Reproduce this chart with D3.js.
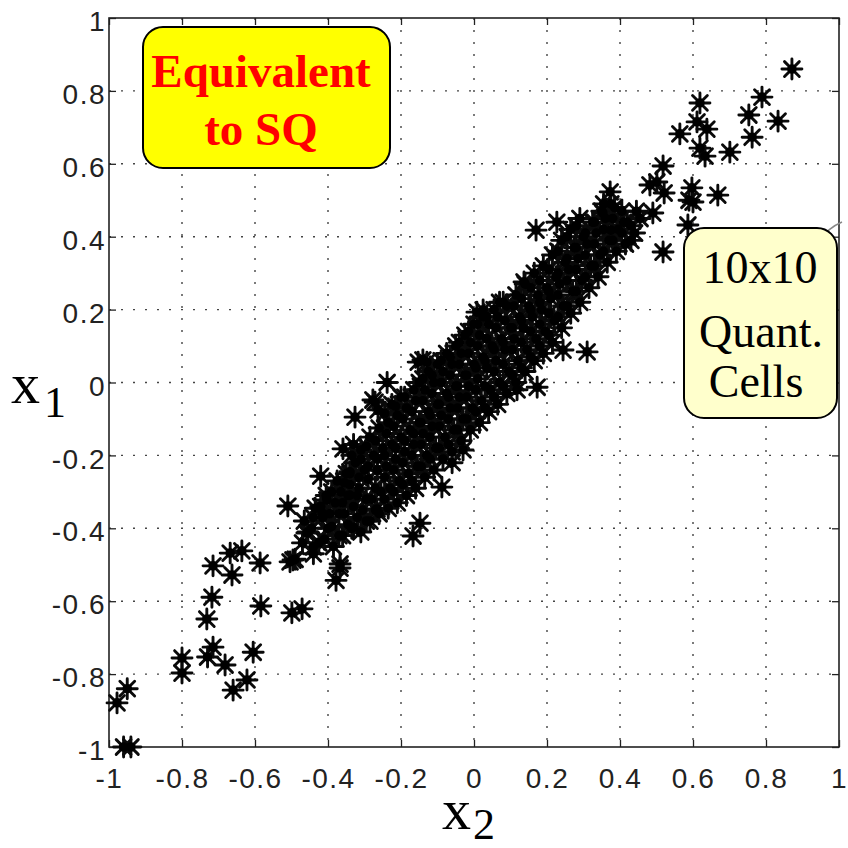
<!DOCTYPE html>
<html>
<head>
<meta charset="utf-8">
<script src="https://cdn.jsdelivr.net/npm/d3@7"></script>
<style>
  body { margin: 0; background: #fff; }
  svg { display: block; }
</style>
</head>
<body>
<div id="chart"></div>
<script>
const WIDTH = 848;
const HEIGHT = 848;
// plot frame: x 109..839, y 18..747
const MARGIN = { top: 18, right: 9, bottom: 101, left: 109 };

const TICKS = [-1, -0.8, -0.6, -0.4, -0.2, 0, 0.2, 0.4, 0.6, 0.8, 1];
const TICK_LABELS = ['-1', '-0.8', '-0.6', '-0.4', '-0.2', '0', '0.2', '0.4', '0.6', '0.8', '1'];

// [x2, x1] pairs
const LOW_TAIL = [
  [-0.96, -1.0], [-0.94, -1.0], [-0.978, -0.879], [-0.95, -0.84],
  [-0.80, -0.756], [-0.80, -0.797], [-0.715, -0.726], [-0.73, -0.753], [-0.682, -0.775],
  [-0.66, -0.844], [-0.622, -0.816], [-0.605, -0.74],
  [-0.732, -0.649], [-0.718, -0.589], [-0.715, -0.503], [-0.668, -0.468], [-0.636, -0.462],
  [-0.663, -0.528], [-0.586, -0.495], [-0.584, -0.613],
  [-0.499, -0.632], [-0.471, -0.621], [-0.504, -0.492], [-0.49, -0.485],
  [-0.378, -0.543], [-0.367, -0.498], [-0.367, -0.509]
];

const EDGE_POINTS = [
  [-0.51, -0.339], [-0.42, -0.257], [-0.359, -0.182], [-0.167, -0.421], [-0.148, -0.386],
  [-0.33, -0.397], [-0.266, -0.347], [-0.326, -0.095], [-0.271, -0.054], [-0.238, 0.0],
  [-0.263, -0.075], [-0.153, 0.056], [-0.14, 0.062], [-0.277, -0.048],
  [-0.44, -0.451], [-0.458, -0.413], [-0.496, -0.487], [-0.403, -0.322], [-0.414, -0.369],
  [-0.416, -0.358], [-0.34, -0.245], [-0.34, -0.309],
  [-0.088, -0.287], [-0.06, -0.22], [-0.03, -0.185], [-0.129, 0.056],
  [0.173, -0.013], [0.31, 0.084], [0.137, 0.276], [0.17, 0.418], [0.227, 0.44], [0.008, 0.193],
  [0.025, 0.199], [0.118, -0.02], [0.244, 0.089]
];

const CORE = [
  [-0.47, -0.44], [-0.465, -0.38],
  [-0.44, -0.47], [-0.445, -0.40], [-0.435, -0.345],
  [-0.41, -0.43], [-0.415, -0.37], [-0.405, -0.31],
  [-0.385, -0.45], [-0.39, -0.395], [-0.38, -0.33], [-0.375, -0.27],
  [-0.36, -0.42], [-0.355, -0.36], [-0.365, -0.30], [-0.35, -0.25],
  [-0.335, -0.40], [-0.33, -0.34], [-0.34, -0.28], [-0.325, -0.22], [-0.33, -0.17],
  [-0.31, -0.41], [-0.305, -0.35], [-0.315, -0.29], [-0.30, -0.24], [-0.31, -0.185],
  [-0.285, -0.38], [-0.28, -0.32], [-0.29, -0.265], [-0.275, -0.20], [-0.285, -0.15],
  [-0.26, -0.36], [-0.255, -0.30], [-0.265, -0.24], [-0.25, -0.18], [-0.26, -0.125],
  [-0.235, -0.345], [-0.23, -0.29], [-0.24, -0.23], [-0.225, -0.17], [-0.235, -0.11], [-0.225, -0.06],
  [-0.21, -0.33], [-0.205, -0.27], [-0.215, -0.21], [-0.20, -0.15], [-0.21, -0.09], [-0.20, -0.04],
  [-0.185, -0.31], [-0.18, -0.25], [-0.19, -0.19], [-0.175, -0.13], [-0.185, -0.07],
  [-0.16, -0.29], [-0.155, -0.23], [-0.165, -0.17], [-0.15, -0.11], [-0.16, -0.05], [-0.15, 0.00],
  [-0.135, -0.26], [-0.13, -0.20], [-0.14, -0.14], [-0.125, -0.08], [-0.135, -0.02], [-0.125, 0.03],
  [-0.11, -0.24], [-0.105, -0.18], [-0.115, -0.12], [-0.10, -0.06], [-0.11, 0.00], [-0.10, 0.05],
  [-0.085, -0.21], [-0.08, -0.15], [-0.09, -0.09], [-0.075, -0.03], [-0.085, 0.03], [-0.075, 0.08],
  [-0.06, -0.19], [-0.055, -0.13], [-0.065, -0.07], [-0.05, -0.01], [-0.06, 0.05], [-0.05, 0.10],
  [-0.035, -0.16], [-0.03, -0.10], [-0.04, -0.04], [-0.025, 0.02], [-0.035, 0.08], [-0.025, 0.13],
  [-0.01, -0.13], [-0.005, -0.07], [-0.015, -0.01], [0.00, 0.05], [-0.01, 0.11], [0.00, 0.16],
  [0.015, -0.11], [0.02, -0.05], [0.01, 0.01], [0.025, 0.07], [0.015, 0.13], [0.025, 0.18],
  [0.04, -0.08], [0.045, -0.02], [0.035, 0.04], [0.05, 0.10], [0.04, 0.16],
  [0.065, -0.06], [0.07, 0.00], [0.06, 0.06], [0.075, 0.12], [0.065, 0.18], [0.07, 0.22],
  [0.09, -0.03], [0.095, 0.03], [0.085, 0.09], [0.10, 0.15], [0.09, 0.21],
  [0.115, 0.00], [0.12, 0.06], [0.11, 0.12], [0.125, 0.18], [0.115, 0.24],
  [0.14, 0.03], [0.145, 0.09], [0.135, 0.15], [0.15, 0.21], [0.14, 0.27],
  [0.165, 0.06], [0.17, 0.12], [0.16, 0.18], [0.175, 0.24], [0.165, 0.30],
  [0.19, 0.08], [0.195, 0.14], [0.185, 0.20], [0.20, 0.26], [0.19, 0.32],
  [0.215, 0.11], [0.22, 0.17], [0.21, 0.23], [0.225, 0.29], [0.215, 0.35],
  [0.24, 0.15], [0.245, 0.21], [0.235, 0.27], [0.25, 0.33], [0.24, 0.39],
  [0.265, 0.19], [0.27, 0.25], [0.26, 0.31], [0.275, 0.37], [0.265, 0.42],
  [0.29, 0.22], [0.295, 0.28], [0.285, 0.34], [0.30, 0.40], [0.29, 0.45],
  [0.315, 0.26], [0.32, 0.32], [0.31, 0.38], [0.325, 0.44],
  [0.34, 0.29], [0.345, 0.35], [0.335, 0.41], [0.35, 0.47],
  [0.365, 0.33], [0.37, 0.39], [0.36, 0.45],
  [0.39, 0.36], [0.395, 0.42], [0.385, 0.48],
  [0.415, 0.38], [0.42, 0.44],
  [0.44, 0.41], [0.445, 0.47]
];

// extra points in between, where the cloud is solid black
const CORE_FILL = [
  [-0.455, -0.41], [-0.44, -0.37],
  [-0.425, -0.44], [-0.42, -0.34],
  [-0.40, -0.40], [-0.395, -0.36], [-0.39, -0.30],
  [-0.37, -0.42], [-0.37, -0.36], [-0.36, -0.33], [-0.355, -0.275],
  [-0.345, -0.39], [-0.345, -0.31], [-0.34, -0.25], [-0.335, -0.20],
  [-0.32, -0.37], [-0.32, -0.31], [-0.315, -0.26], [-0.31, -0.21],
  [-0.295, -0.38], [-0.295, -0.32], [-0.29, -0.23], [-0.295, -0.175],
  [-0.27, -0.35], [-0.27, -0.29], [-0.265, -0.21], [-0.27, -0.16],
  [-0.245, -0.32], [-0.245, -0.26], [-0.245, -0.20], [-0.24, -0.14], [-0.245, -0.085],
  [-0.22, -0.30], [-0.22, -0.24], [-0.215, -0.18], [-0.22, -0.12], [-0.215, -0.065],
  [-0.195, -0.28], [-0.195, -0.22], [-0.19, -0.16], [-0.195, -0.10], [-0.19, -0.04],
  [-0.17, -0.27], [-0.17, -0.20], [-0.165, -0.14], [-0.17, -0.08], [-0.165, -0.02],
  [-0.145, -0.23], [-0.145, -0.17], [-0.145, -0.11], [-0.14, -0.05], [-0.14, 0.01],
  [-0.12, -0.21], [-0.12, -0.15], [-0.12, -0.09], [-0.115, -0.03], [-0.115, 0.02],
  [-0.095, -0.18], [-0.095, -0.12], [-0.095, -0.06], [-0.09, 0.00], [-0.09, 0.06],
  [-0.07, -0.17], [-0.07, -0.10], [-0.07, -0.04], [-0.065, 0.02], [-0.065, 0.07],
  [-0.045, -0.13], [-0.045, -0.07], [-0.045, -0.01], [-0.04, 0.05], [-0.04, 0.11],
  [-0.02, -0.10], [-0.02, -0.04], [-0.02, 0.02], [-0.015, 0.08], [-0.015, 0.14],
  [0.005, -0.08], [0.005, -0.02], [0.005, 0.04], [0.01, 0.10], [0.01, 0.16],
  [0.03, -0.07], [0.03, -0.01], [0.03, 0.06], [0.035, 0.12], [0.035, 0.18],
  [0.055, -0.04], [0.055, 0.03], [0.055, 0.09], [0.06, 0.15], [0.055, 0.20],
  [0.08, -0.01], [0.08, 0.05], [0.08, 0.11], [0.085, 0.17], [0.08, 0.22],
  [0.105, 0.02], [0.105, 0.09], [0.105, 0.15], [0.11, 0.21],
  [0.13, 0.04], [0.13, 0.11], [0.13, 0.17], [0.13, 0.23],
  [0.155, 0.07], [0.155, 0.14], [0.155, 0.20], [0.155, 0.26],
  [0.18, 0.10], [0.18, 0.16], [0.18, 0.22], [0.18, 0.28],
  [0.205, 0.13], [0.205, 0.19], [0.205, 0.25], [0.205, 0.31],
  [0.23, 0.18], [0.23, 0.24], [0.23, 0.30], [0.23, 0.36],
  [0.255, 0.21], [0.255, 0.28], [0.255, 0.34], [0.255, 0.40],
  [0.28, 0.25], [0.28, 0.31], [0.28, 0.37], [0.28, 0.43],
  [0.305, 0.29], [0.305, 0.35], [0.305, 0.41],
  [0.33, 0.32], [0.33, 0.38], [0.33, 0.44],
  [0.355, 0.36], [0.355, 0.42], [0.355, 0.49],
  [0.38, 0.39], [0.38, 0.45],
  [0.405, 0.41], [0.405, 0.47],
  [0.43, 0.43], [0.455, 0.45]
];

const HIGH_TAIL = [
  [0.871, 0.86], [0.789, 0.783], [0.753, 0.734], [0.833, 0.717], [0.762, 0.673], [0.701, 0.632],
  [0.619, 0.767], [0.611, 0.715], [0.638, 0.695], [0.564, 0.682], [0.619, 0.643], [0.633, 0.621],
  [0.518, 0.594], [0.373, 0.523], [0.482, 0.542], [0.521, 0.52], [0.597, 0.534], [0.60, 0.495],
  [0.668, 0.514], [0.586, 0.432], [0.518, 0.358], [0.353, 0.465],
  [0.41, 0.44], [0.375, 0.49], [0.43, 0.39], [0.49, 0.465], [0.375, 0.418], [0.501, 0.55], [0.589, 0.50]
];

const points = [...LOW_TAIL, ...EDGE_POINTS, ...CORE, ...CORE_FILL, ...HIGH_TAIL];

const svg = d3.select('#chart').append('svg')
  .attr('width', WIDTH)
  .attr('height', HEIGHT);

const x = d3.scaleLinear().domain([-1, 1]).range([MARGIN.left, WIDTH - MARGIN.right]);
const y = d3.scaleLinear().domain([-1, 1]).range([HEIGHT - MARGIN.bottom, MARGIN.top]);

// dotted grid
const grid = svg.append('g')
  .attr('stroke', '#444')
  .attr('stroke-width', 1.4)
  .attr('stroke-dasharray', '2,10');
TICKS.slice(1, -1).forEach(t => {
  grid.append('line').attr('x1', x(t)).attr('x2', x(t)).attr('y1', y(1)).attr('y2', y(-1));
  grid.append('line').attr('y1', y(t)).attr('y2', y(t)).attr('x1', x(-1)).attr('x2', x(1));
});

// axes with inward ticks
const fmt = d => TICK_LABELS[TICKS.indexOf(d)];
function styleAxis(g) {
  g.select('.domain').remove();
  g.selectAll('line').attr('stroke', '#222').attr('stroke-width', 1.3);
  g.selectAll('text')
    .style('font-family', '"Liberation Sans", Arial, sans-serif')
    .style('font-size', '28px')
    .style('letter-spacing', '1.5px')
    .attr('fill', '#222');
}

svg.append('g')
  .attr('transform', `translate(0,${y(-1)})`)
  .call(d3.axisBottom(x).tickValues(TICKS).tickFormat(fmt).tickSizeInner(-7).tickSizeOuter(0).tickPadding(21))
  .call(styleAxis);

svg.append('g')
  .attr('transform', `translate(${x(-1)},0)`)
  .call(d3.axisLeft(y).tickValues(TICKS).tickFormat(fmt).tickSizeInner(-7).tickSizeOuter(0).tickPadding(3))
  .call(styleAxis)
  .selectAll('text').attr('dy', '0.45em');

svg.append('g')
  .attr('transform', `translate(0,${y(1)})`)
  .call(d3.axisTop(x).tickValues(TICKS).tickFormat('').tickSizeInner(-7).tickSizeOuter(0))
  .call(styleAxis);

svg.append('g')
  .attr('transform', `translate(${x(1)},0)`)
  .call(d3.axisRight(y).tickValues(TICKS).tickFormat('').tickSizeInner(-7).tickSizeOuter(0))
  .call(styleAxis);

// frame
svg.append('rect')
  .attr('x', x(-1)).attr('y', y(1))
  .attr('width', x(1) - x(-1)).attr('height', y(-1) - y(1))
  .attr('fill', 'none').attr('stroke', '#222').attr('stroke-width', 1.6);

// asterisk markers
const R = 10, D = R * 0.74;
const starPath = `M${-R},0H${R}M0,${-R}V${R}M${-D},${-D}L${D},${D}M${-D},${D}L${D},${-D}`;
const marks = svg.append('g');
marks.selectAll('path')
  .data(points)
  .join('path')
  .attr('transform', d => `translate(${x(d[0])},${y(d[1])})`)
  .attr('d', starPath)
  .attr('stroke', '#0a0a0a')
  .attr('stroke-width', 2.9)
  .attr('stroke-linecap', 'round')
  .attr('fill', 'none');
marks.selectAll('circle')
  .data(points)
  .join('circle')
  .attr('cx', d => x(d[0]))
  .attr('cy', d => y(d[1]))
  .attr('r', 4.8)
  .attr('fill', '#000');

// axis titles
const title = (tx, ty, sub, subDx, subDy) => {
  const t = svg.append('text')
    .attr('x', tx).attr('y', ty)
    .style('font-family', '"Liberation Serif", "Times New Roman", serif')
    .attr('fill', '#000');
  t.append('tspan').style('font-size', '58px').text('x');
  t.append('tspan').attr('dx', subDx).attr('dy', subDy).style('font-size', '44px').text(sub);
};
title(11, 403, '1', 4, 14);
title(442, 829, '2', 2, 10);

// annotation boxes
const box = (bx, by, bw, bh, fill) => svg.append('rect')
  .attr('x', bx).attr('y', by).attr('width', bw).attr('height', bh)
  .attr('rx', 20).attr('ry', 20)
  .attr('fill', fill).attr('stroke', '#000').attr('stroke-width', 2);

box(143, 27, 247, 141, '#ffff00');
const t1 = svg.append('text')
  .attr('text-anchor', 'middle')
  .style('font-family', '"Liberation Serif", "Times New Roman", serif')
  .style('font-weight', 'bold')
  .style('font-size', '47px')
  .attr('fill', '#ff0000');
t1.append('tspan').attr('x', 261).attr('y', 87).text('Equivalent');
t1.append('tspan').attr('x', 261).attr('y', 145).text('to SQ');

// small leftover arrow stroke near the right edge
svg.append('path')
  .attr('d', 'M820,240 Q828,228 842,222')
  .attr('fill', 'none').attr('stroke', '#888').attr('stroke-width', 1.5);

box(684, 228, 153, 190, '#ffffcc');
const t2 = svg.append('text')
  .attr('text-anchor', 'middle')
  .style('font-family', '"Liberation Serif", "Times New Roman", serif')
  .style('font-size', '46px')
  .attr('fill', '#000');
t2.append('tspan').attr('x', 760).attr('y', 283).text('10x10');
t2.append('tspan').attr('x', 761).attr('y', 347).text('Quant.');
t2.append('tspan').attr('x', 756).attr('y', 397).text('Cells');
</script>
</body>
</html>
